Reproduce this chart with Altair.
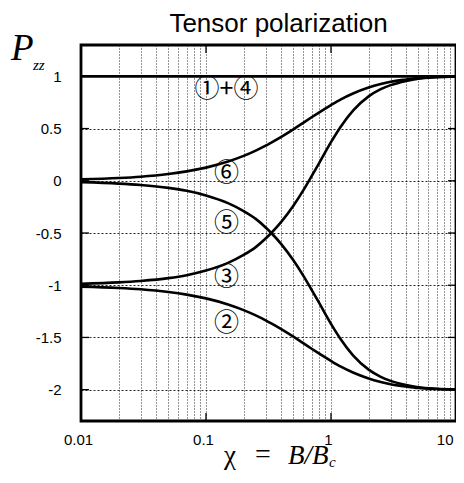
import altair as alt
import pandas as pd

# ---- data ----
x_vals = [0.01, 0.02, 0.03, 0.05, 0.07, 0.1, 0.15, 0.2, 0.25, 0.3, 0.333, 0.4, 0.5,
          0.6, 0.7, 0.8, 1.0, 1.2, 1.5, 2.0, 2.5, 3.0, 4.0, 5.0, 7.0, 10.0]
p6 = [0.013, 0.026, 0.039, 0.065, 0.090, 0.126, 0.184, 0.238, 0.289, 0.336, 0.366, 0.421, 0.493,
      0.555, 0.608, 0.653, 0.725, 0.780, 0.836, 0.893, 0.926, 0.948, 0.970, 0.984, 0.994, 0.999]
p5 = [-0.013, -0.027, -0.041, -0.068, -0.096, -0.140, -0.214, -0.290, -0.365, -0.447, -0.500,
      -0.606, -0.761, -0.908, -1.044, -1.165, -1.370, -1.520, -1.672, -1.808, -1.877, -1.916,
      -1.956, -1.977, -1.991, -1.998]
p3 = [-0.987, -0.973, -0.959, -0.932, -0.904, -0.860, -0.786, -0.710, -0.635, -0.553, -0.500,
      -0.394, -0.239, -0.092, 0.044, 0.165, 0.370, 0.520, 0.672, 0.808, 0.877, 0.916,
      0.956, 0.977, 0.991, 0.998]
p2 = [-1.013, -1.026, -1.039, -1.065, -1.090, -1.126, -1.184, -1.238, -1.289, -1.336, -1.366,
      -1.421, -1.493, -1.555, -1.608, -1.653, -1.725, -1.780, -1.836, -1.893, -1.926, -1.948,
      -1.970, -1.984, -1.994, -1.999]
x14 = [0.01, 10.0]
p14 = [1.0, 1.0]

x_ticks = [0.01, 0.02, 0.03, 0.04, 0.05, 0.06, 0.07, 0.08, 0.09,
           0.1, 0.2, 0.3, 0.4, 0.5, 0.6, 0.7, 0.8, 0.9,
           1, 2, 3, 4, 5, 6, 7, 8, 9, 10]
x_labelled = [0.01, 0.1, 1, 10]
y_ticks = [-2, -1.5, -1, -0.5, 0, 0.5, 1]

curve_labels = ["①+④", "⑥", "⑤", "③", "②"]
label_x = [0.146, 0.146, 0.146, 0.146, 0.146]
label_y = [0.875, 0.07, -0.40, -0.92, -1.36]

# ---- build tables ----
rows = []
for name, ys, xs in [("6", p6, x_vals), ("5", p5, x_vals), ("3", p3, x_vals),
                     ("2", p2, x_vals), ("1+4", p14, x14)]:
    for xv, yv in zip(xs, ys):
        rows.append({"x": xv, "y": yv, "curve": name})
df = pd.DataFrame(rows)
lab_df = pd.DataFrame({"label": curve_labels, "x": label_x, "y": label_y})
ytick_df = pd.DataFrame({"y": y_ticks})
xtick_df = pd.DataFrame({"x": x_labelled})

decade_test = " || ".join(f"datum.value == {v}" for v in x_labelled)

W, H = 375, 376
xscale = alt.Scale(type="log", domain=[0.01, 10], nice=False)
yscale = alt.Scale(domain=[-2.3, 1.3], nice=False, zero=False)

common_axis = dict(grid=True, gridColor="black", gridWidth=1, gridOpacity=0.85,
                   ticks=False, tickSize=0, domain=False, title=None,
                   labelFont="Liberation Sans", labelFontSize=15, labelColor="black",
                   labelOverlap=False, labelFlush=False)

curves = alt.Chart(df).mark_line(color="black", strokeWidth=2.6, interpolate="monotone").encode(
    x=alt.X("x:Q", scale=xscale,
            axis=alt.Axis(values=x_ticks, gridDash=[1, 2],
                          labelExpr=f"({decade_test}) ? '' + datum.value : ''",
                          labelAlign={"condition": {"test": "datum.value == 10", "value": "right"},
                                      "value": "center"},
                          labelPadding=11, labelOffset=-3, **common_axis)),
    y=alt.Y("y:Q", scale=yscale,
            axis=alt.Axis(values=y_ticks, gridDash=[2, 2],
                          labelExpr="'' + datum.value",
                          labelPadding=20, **common_axis)),
    detail="curve:N",
)

# short inward ticks on all four sides of the frame
tick_len = 8
yt_left = alt.Chart(ytick_df).mark_rule(color="black", strokeWidth=1.3).encode(
    y=alt.Y("y:Q", scale=yscale), x=alt.value(0), x2=alt.value(tick_len))
yt_right = alt.Chart(ytick_df).mark_rule(color="black", strokeWidth=1.3).encode(
    y=alt.Y("y:Q", scale=yscale), x=alt.value(W - tick_len), x2=alt.value(W))
xt_top = alt.Chart(xtick_df).mark_rule(color="black", strokeWidth=1.3).encode(
    x=alt.X("x:Q", scale=xscale), y=alt.value(0), y2=alt.value(tick_len))
xt_bot = alt.Chart(xtick_df).mark_rule(color="black", strokeWidth=1.3).encode(
    x=alt.X("x:Q", scale=xscale), y=alt.value(H - tick_len), y2=alt.value(H))

labels = alt.Chart(lab_df).mark_text(font="Noto Sans CJK JP", fontSize=25, color="black",
                                     baseline="middle", align="center").encode(
    x=alt.X("x:Q", scale=xscale), y=alt.Y("y:Q", scale=yscale), text="label:N")

one = alt.Data(values=[{}])
serif = "Liberation Serif"
ann = [
    alt.Chart(one).mark_text(text="Tensor polarization", font="Liberation Sans", fontSize=26,
                             align="center", baseline="alphabetic", color="black",
                             x=197.5, y=-13),
    alt.Chart(one).mark_text(text="P", font=serif, fontStyle="italic", fontSize=37,
                             align="left", baseline="alphabetic", color="black", x=-70, y=15),
    alt.Chart(one).mark_text(text="zz", font=serif, fontStyle="italic", fontSize=15,
                             align="left", baseline="alphabetic", color="black", x=-48, y=25),
    alt.Chart(one).mark_text(text="χ", font=serif, fontSize=27,
                             align="center", baseline="alphabetic", color="black", x=149, y=419),
    alt.Chart(one).mark_text(text="=", font=serif, fontSize=28,
                             align="center", baseline="alphabetic", color="black", x=182, y=418),
    alt.Chart(one).mark_text(text="B/B", font=serif, fontStyle="italic", fontSize=27,
                             align="left", baseline="alphabetic", color="black", x=207, y=419),
    alt.Chart(one).mark_text(text="c", font=serif, fontStyle="italic", fontSize=15,
                             align="left", baseline="alphabetic", color="black", x=248, y=422),
]

chart = alt.layer(curves, yt_left, yt_right, xt_top, xt_bot, labels, *ann).properties(
    width=W, height=H,
    autosize=alt.AutoSizeParams(type="none"),
    padding={"left": 73, "top": 37, "right": 0, "bottom": 49},
).configure_view(stroke="black", strokeWidth=2.8)

chart.save("out.html", embed_options={"renderer": "svg", "actions": False})
